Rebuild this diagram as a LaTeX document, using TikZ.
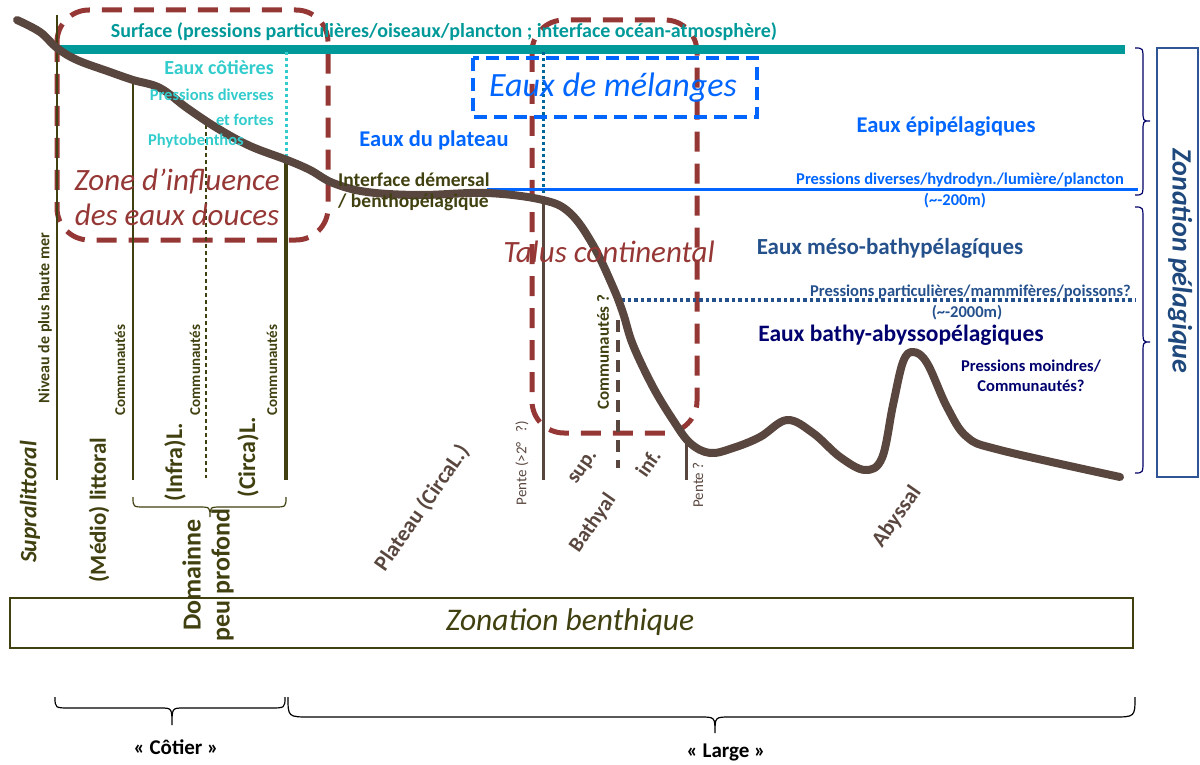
\documentclass[tikz,border=0pt]{standalone}
\usepackage{fontspec}
\setmainfont{Carlito}
\definecolor{cteal}{RGB}{0,153,153}
\definecolor{cbrown}{RGB}{89,71,63}
\definecolor{colive}{RGB}{64,64,16}
\definecolor{cred}{RGB}{149,55,53}
\definecolor{cblue}{RGB}{0,102,255}
\definecolor{ccyan}{RGB}{51,204,204}
\definecolor{cnavy}{RGB}{36,80,140}
\definecolor{cdark}{RGB}{0,0,110}
\definecolor{cdcyan}{RGB}{0,102,153}
\definecolor{cbrace}{RGB}{0,0,102}
\definecolor{cpbox}{RGB}{47,85,151}
\definecolor{cptext}{RGB}{31,73,125}
\newcommand\fsz[2]{\fontsize{#1}{#2}\selectfont}
\begin{document}
\begin{tikzpicture}[x=1pt,y=-1pt,
  every node/.style={inner sep=0pt},
  bl/.style={font=\bfseries\fsz{#1}{#1}},
  rdash/.style={draw=cred, line width=5, dash pattern=on 20 off 12, rounded corners=32},
  brace/.style={draw, line width=1.2},
  vthin/.style={draw=colive, line width=1.5},
]
\useasboundingbox (0,0) rectangle (1200,765);

% red dashed zones
\draw[rdash] (57,10) rectangle (328,240);
\draw[rdash] (532,20) rectangle (697,433);

% surface line
\draw[cteal, line width=9] (58,50) -- (1125,50);
\node[bl=20, text=cteal] (surf) at (444,32) {Surface (pressions particulières/oiseaux/plancton ; interface océan-atmosphère)};

% vertical lines coastal
\draw[vthin] (57,15) -- (57,480);
\draw[vthin] (133,80) -- (133,480);
\draw[draw=colive, line width=1.5, dash pattern=on 4 off 3] (206,125) -- (206,478);
\draw[draw=colive, line width=3.5] (286,160) -- (286,480);
\draw[ccyan, line width=3, dash pattern=on 3 off 3] (286,52) -- (286,160);

% plateau / slope lines
\draw[cblue, line width=3] (487,190) -- (1138,190);
\draw[cdcyan, line width=3, dash pattern=on 3 off 3] (543,52) -- (543,200);
\draw[cbrown, line width=3] (543,200) -- (543,480);
\draw[cbrown, line width=3] (686,444) -- (686,480);
\draw[cbrown, line width=4, dash pattern=on 12 off 8] (618,320) -- (618,468);
\draw[cnavy, line width=3.5, dash pattern=on 3.5 off 3] (621,300) -- (1135,300);

% seafloor
\draw[cbrown, line width=8, line cap=round, line join=round] plot[smooth, tension=0.6] coordinates {
 (17,20) (40,32) (57,48) (77,60) (110,72) (133,80) (160,88) (187,108) (217,128) (250,146) (287,160) (310,170) (333,183) (367,192) (420,195) (487,193) (543,200) (570,213) (593,245) (613,287) (623,313) (633,345) (653,387) (673,420) (690,443) (710,453) (733,448) (760,437) (787,420) (813,433) (840,457) (865,470) (882,458) (893,405) (903,362) (913,352) (927,363) (947,407) (967,437) (1000,450) (1120,477)};

% eaux de melanges box
\draw[cblue, line width=4, dash pattern=on 13 off 7] (473,58) rectangle (757,117);
\node[font=\itshape\fsz{34}{34}, text=cblue] (melange) at (613,88) {Eaux de mélanges};

% coastal texts
\node[bl=20, text=ccyan, anchor=east] (ecot) at (274,68) {Eaux côtières};
\node[bl=16.5, text=ccyan, anchor=east] (pdiv) at (274,95) {Pressions diverses};
\node[bl=16.5, text=ccyan, anchor=east] (fortes) at (274,120) {et fortes};
\node[bl=16.5, text=ccyan, anchor=west] (phyto) at (148,141) {Phytobenthos};
\node[font=\itshape\fsz{31}{35}, text=cred, align=center] (zone) at (177,197) {Zone d’influence\\des eaux douces};

\node[bl=22.5, text=cblue] (eplat) at (434,140) {Eaux du plateau};
\node[bl=19.5, text=colive, anchor=west] (inter1) at (338,180) {Interface démersal};
\node[bl=19.5, text=colive, anchor=west] (inter2) at (338,202) {/ benthopélagique};

\node[bl=22.5, text=cblue] (epi) at (946,127) {Eaux épipélagiques};
\node[bl=16.5, text=cblue, anchor=east] (pdiv2) at (1124,180) {Pressions diverses/hydrodyn./lumière/plancton};
\node[bl=16.5, text=cblue] (m200) at (955,201) {(\textasciitilde-200m)};

\node[font=\itshape\fsz{31}{31}, text=cred] (talus) at (609,252) {Talus continental};

\node[bl=23, text=cnavy] (meso) at (890,248) {Eaux méso-bathypélagíques};
\node[bl=16.5, text=cnavy, anchor=east] (ppart) at (1131,292) {Pressions particulières/mammifères/poissons?};
\node[bl=16.5, text=cnavy] (m2000) at (967,313) {(\textasciitilde-2000m)};
\node[bl=23.5, text=cdark] (abyssop) at (901,335) {Eaux bathy-abyssopélagiques};
\node[bl=16.5, text=cdark] (pmoin) at (1031,366) {Pressions moindres/};
\node[bl=16.5, text=cdark] (pcom) at (1031,386) {Communautés?};

% rotated coastal labels
\node[bl=16, text=colive, rotate=90] (niveau) at (45,318) {Niveau de plus haute mer};
\node[bl=15, text=colive, rotate=90] (com1) at (120,370) {Communautés};
\node[bl=15, text=colive, rotate=90] (com2) at (195,370) {Communautés};
\node[bl=15, text=colive, rotate=90] (com3) at (272,370) {Communautés};
\node[font=\bfseries\itshape\fsz{23.5}{23.5}, text=colive, rotate=90] (supra) at (30,502) {Supralittoral};
\node[bl=23, text=colive, rotate=90] (medio) at (99,510) {(Médio) littoral};
\node[bl=24, text=colive, rotate=90] (infra) at (175,462) {(Infra)L.};
\node[bl=24, text=colive, rotate=90] (circa) at (248,457) {(Circa)L.};
\node[font=\bfseries\fsz{26}{29}, text=colive, rotate=90, align=center] (domaine) at (208,575) {Domainne\\peu profond};
\draw[brace, colive] (133,497) .. controls (133,507) and (133,507) .. (145,507) -- (198,507) .. controls (210,507) and (210,507) .. (210,517) .. controls (210,507) and (210,507) .. (222,507) -- (274,507) .. controls (286,507) and (286,507) .. (286,497);

% rotated slope labels
\node[bl=22, text=cbrown, rotate=55] (plateau) at (422,508) {Plateau (CircaL.)};
\node[font=\fsz{15}{15}, text=cbrown, rotate=90] (pente1) at (522,463) {Pente (>2°\ \ \ ?)};
\node[bl=21, text=cbrown, rotate=55] (sup) at (584,468) {sup.};
\node[bl=21, text=cbrown, rotate=55] (bathyal) at (593,523) {Bathyal};
\node[bl=21, text=cbrown, rotate=55] (inf) at (648,463) {inf.};
\node[font=\fsz{15}{15}, text=cbrown, rotate=90] (pente2) at (698,485) {Pente ?};
\node[bl=17, text=colive, rotate=90] (comq) at (603,352) {Communautés ?};
\node[bl=22, text=cbrown, rotate=55] (abyssal) at (897,517) {Abyssal};

% benthic box
\node[draw=colive, line width=1.5, minimum width=1123, minimum height=50] (zbbox) at (571.5,623) {};
\node[font=\itshape\fsz{31.5}{31.5}, text=colive] (zbtext) at (570,622) {Zonation benthique};

% pelagic braces and box
\draw[brace, cbrace] (1135,48) .. controls (1143,48) and (1143,48) .. (1143,60) -- (1143,110) .. controls (1143,121) and (1143,121) .. (1150,121) .. controls (1143,121) and (1143,121) .. (1143,132) -- (1143,183) .. controls (1143,195) and (1143,195) .. (1135,195);
\draw[brace, cbrace] (1135,207) .. controls (1143,207) and (1143,207) .. (1143,220) -- (1143,330) .. controls (1143,342) and (1143,342) .. (1150,342) .. controls (1143,342) and (1143,342) .. (1143,354) -- (1143,460) .. controls (1143,473) and (1143,473) .. (1135,473);
\node[draw=cpbox, line width=1.5, minimum width=41, minimum height=429] (pbox) at (1177.5,262.5) {};
\node[font=\bfseries\itshape\fsz{28}{28}, text=cptext, rotate=-90] (ptext) at (1180,261) {Zonation pélagique};

% bottom braces
\draw[brace, black] (55,697) .. controls (55,708) and (55,708) .. (70,708) -- (160,708) .. controls (172,708) and (172,708) .. (172,725) .. controls (172,708) and (172,708) .. (184,708) -- (270,708) .. controls (285,708) and (285,708) .. (285,697);
\draw[brace, black] (288,697) .. controls (288,717) and (288,717) .. (310,717) -- (700,717) .. controls (715,717) and (715,717) .. (715,733) .. controls (715,717) and (715,717) .. (730,717) -- (1113,717) .. controls (1135,717) and (1135,717) .. (1135,697);
\node[bl=21, text=black] (cotier) at (176,747) {« Côtier »};
\node[bl=21, text=black] (large) at (726,752) {« Large »};
\end{tikzpicture}
\end{document}
